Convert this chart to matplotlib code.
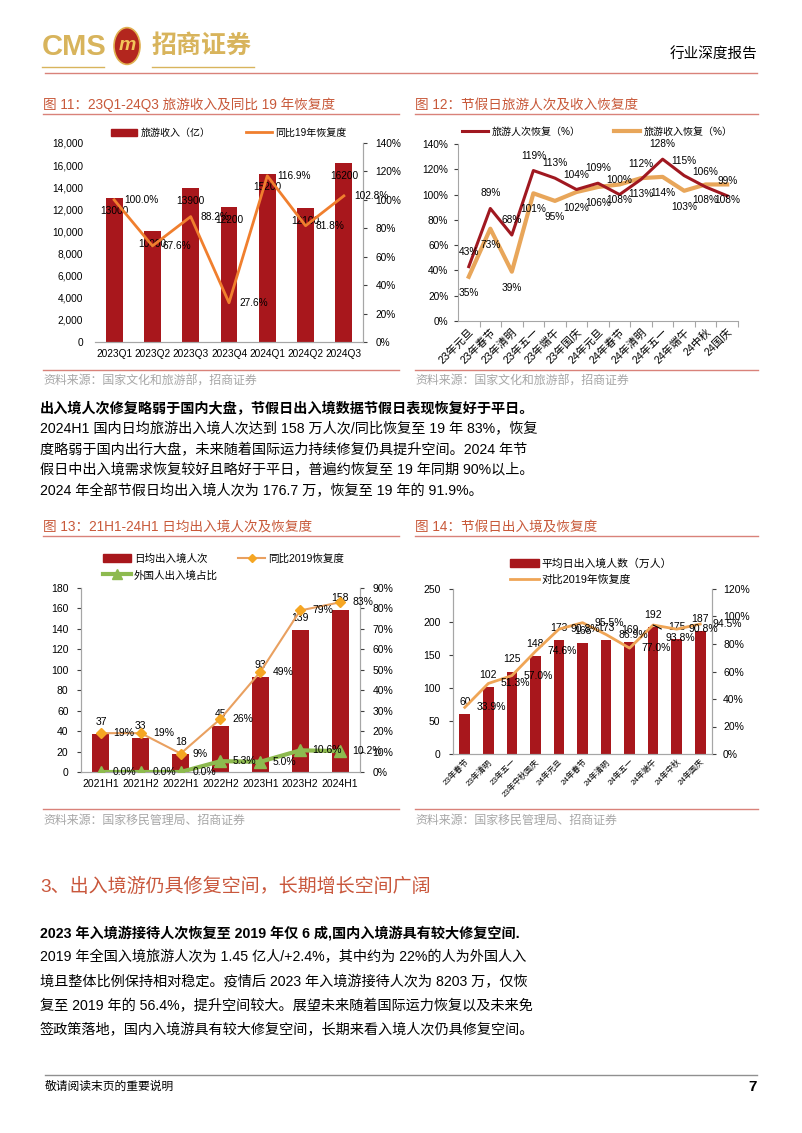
import numpy as np
import matplotlib.pyplot as plt
from matplotlib.lines import Line2D
from matplotlib.patches import Patch, Circle
from matplotlib.ticker import FuncFormatter, FixedLocator

plt.rcParams['font.family'] = ['Liberation Sans', 'Noto Sans CJK SC']

W, H = 802, 1133

# ---- data ----
q_labels = ['2023Q1', '2023Q2', '2023Q3', '2023Q4', '2024Q1', '2024Q2', '2024Q3']
q_income = [13000, 10000, 13900, 12200, 15200, 12100, 16200]
q_recovery = [100.0, 67.6, 88.2, 27.6, 116.9, 81.8, 102.8]

hol12 = ['23年元旦', '23年春节', '23年清明', '23年五一', '23年端午', '23年国庆', '24年元旦',
         '24年春节', '24年清明', '24年五一', '24年端午', '24中秋', '24国庆']
visit_recovery = [43, 89, 68, 119, 113, 104, 109, 100, 112, 128, 115, 106, 99]
income_recovery = [35, 73, 39, 101, 95, 102, 106, 108, 113, 114, 103, 108, 108]

halves = ['2021H1', '2021H2', '2022H1', '2022H2', '2023H1', '2023H2', '2024H1']
daily_cross = [37, 33, 18, 45, 93, 139, 158]
cross_recovery = [19, 19, 9, 26, 49, 79, 83]
foreign_share = [0.0, 0.0, 0.0, 5.3, 5.0, 10.6, 10.2]

hol14 = ['23年春节', '23年清明', '23年五一', '23年中秋国庆', '24年元旦', '24年春节', '24年清明',
         '24年五一', '24年端午', '24年中秋', '24年国庆']
holiday_cross = [60, 102, 125, 148, 173, 168, 173, 169, 192, 175, 187]
holiday_recovery = [33.9, 51.3, 57.0, 74.6, 90.8, 95.5, 86.9, 77.0, 93.8, 90.8, 94.5]

BAR = '#A8171C'
TITLE = '#C8593A'
GRID = '#A6A6A6'

fig = plt.figure(figsize=(W / 100, H / 100), dpi=100)


def px_axes(l, t, r, b):
    return fig.add_axes([l / W, 1 - b / H, (r - l) / W, (b - t) / H])


def ftext(x, y, s, **kw):
    kw.setdefault('va', 'center')
    fig.text(x / W, 1 - y / H, s, **kw)


def fline(x1, x2, y, color, lw=1.0):
    fig.add_artist(Line2D([x1 / W, x2 / W], [1 - y / H, 1 - y / H],
                          transform=fig.transFigure, color=color, lw=lw))


def style(ax, ax2=None):
    for s in ['top']:
        ax.spines[s].set_visible(False)
        if ax2 is not None:
            ax2.spines[s].set_visible(False)
    for a in [ax] + ([ax2] if ax2 is not None else []):
        for s in a.spines.values():
            s.set_color(GRID)
            s.set_linewidth(0.8)
        a.tick_params(colors='#404040', labelcolor='black', width=0.8)


# ---- header ----
ftext(42, 47, 'CMS', color='#D8B45C', fontsize=21, fontweight='bold', ha='left')
logo = Circle((127 / W, 1 - 46 / H), 13 / W, transform=fig.transFigure,
              facecolor='#B3261E', edgecolor='#E0B050', lw=1.2)
fig.add_artist(logo)
ftext(127, 46, 'm', color='#F2C45A', fontsize=14, fontweight='bold', style='italic', ha='center')
ftext(152, 46, '招商证券', color='#D8B45C', fontsize=18, ha='left', fontweight='bold')
fline(42, 104, 67, '#D8B45C', 1.0)
fline(152, 254, 67, '#D8B45C', 1.0)
ftext(757, 55, '行业深度报告', fontsize=10.5, ha='right')
fline(45, 757, 73, '#D9827A', 1.0)

# ---- titles / sources ----
ftext(43, 105, '图 11：23Q1-24Q3 旅游收入及同比 19 年恢复度', color=TITLE, fontsize=9.8, ha='left')
fline(43, 399, 114, '#D9827A', 1.0)
ftext(415, 105, '图 12：节假日旅游人次及收入恢复度', color=TITLE, fontsize=9.8, ha='left')
fline(415, 758, 114, '#D9827A', 1.0)
fline(43, 399, 370, '#D9827A', 1.0)
fline(415, 758, 370, '#D9827A', 1.0)
ftext(43, 382, '资料来源：国家文化和旅游部，招商证券', color='#A6A6A6', fontsize=8.6, ha='left')
ftext(415, 382, '资料来源：国家文化和旅游部，招商证券', color='#A6A6A6', fontsize=8.6, ha='left')

ftext(43, 527, '图 13：21H1-24H1 日均出入境人次及恢复度', color=TITLE, fontsize=9.8, ha='left')
fline(43, 399, 536, '#D9827A', 1.0)
ftext(415, 527, '图 14：节假日出入境及恢复度', color=TITLE, fontsize=9.8, ha='left')
fline(415, 758, 536, '#D9827A', 1.0)
fline(43, 399, 809, '#D9827A', 1.0)
fline(415, 758, 809, '#D9827A', 1.0)
ftext(43, 821, '资料来源：国家移民管理局、招商证券', color='#A6A6A6', fontsize=8.6, ha='left')
ftext(415, 821, '资料来源：国家移民管理局、招商证券', color='#A6A6A6', fontsize=8.6, ha='left')

# ---- chart 11 ----
ax = px_axes(95, 143, 363, 342)
x = np.arange(len(q_labels))
ax.bar(x, q_income, width=0.44, color=BAR, zorder=2)
ax.set_xlim(-0.5, len(q_labels) - 0.5)
ax.set_ylim(0, 18000)
ax.set_yticks(np.arange(0, 18001, 2000))
ax.yaxis.set_major_formatter(FuncFormatter(lambda v, _: f'{int(v):,}'))
ax.set_xticks(x)
ax.set_xticklabels(q_labels)
ax2 = ax.twinx()
ax2.plot(x, q_recovery, color='#F07F2E', lw=2, zorder=3)
ax2.set_ylim(0, 140)
ax2.set_yticks(np.arange(0, 141, 20))
ax2.yaxis.set_major_formatter(FuncFormatter(lambda v, _: f'{int(v)}%'))
style(ax, ax2)
ax.spines['left'].set_visible(False)
ax2.spines['left'].set_visible(False)
ax.tick_params(axis='y', length=0, pad=8.5, labelsize=7.3)
ax.tick_params(axis='x', length=0, pad=5, labelsize=7.3)
ax2.tick_params(axis='y', length=3, pad=6, labelsize=7.3)
for i, v in enumerate(q_income):
    ax.annotate(str(v), (i, v), xytext=(0, -13), textcoords='offset pixels',
                ha='center', va='center', fontsize=7.3, zorder=5)
for i, v in enumerate(q_recovery):
    ax2.annotate(f'{v:.1f}%', (i, v), xytext=(10, 0), textcoords='offset pixels',
                 ha='left', va='center', fontsize=7.3, zorder=5)
ax.legend(handles=[Patch(color=BAR, label='旅游收入（亿）'),
                   Line2D([], [], color='#F07F2E', lw=2, label='同比19年恢复度')],
          ncol=2, loc='center', bbox_to_anchor=(229 / W, 1 - 133 / H), bbox_transform=fig.transFigure,
          frameon=False, fontsize=7.2, handlelength=2.6, handleheight=0.8, handletextpad=0.3,
          columnspacing=3.6)

# ---- chart 12 ----
ax = px_axes(458, 144, 738, 321)
x = np.arange(len(hol12))
ax.plot(x, income_recovery, color='#E8A65A', lw=3, zorder=2)
ax.plot(x, visit_recovery, color='#A01820', lw=2.2, zorder=3)
ax.set_xlim(-0.5, len(hol12) - 0.5)
ax.set_ylim(0, 140)
ax.set_yticks(np.arange(0, 141, 20))
ax.yaxis.set_major_formatter(FuncFormatter(lambda v, _: f'{int(v)}%'))
ax.set_xticks(x)
ax.set_xticklabels(hol12, rotation=45, ha='right', rotation_mode='anchor')
ax.xaxis.set_minor_locator(FixedLocator(np.arange(0.5, len(hol12), 1)))
style(ax)
ax.spines['right'].set_visible(False)
ax.tick_params(axis='x', which='major', length=0, pad=4, labelsize=7.8)
ax.tick_params(axis='x', which='minor', length=4, width=0.8, color=GRID)
ax.tick_params(axis='y', length=3, pad=4, labelsize=7.3)
for i, v in enumerate(visit_recovery):
    ax.annotate(f'{v}%', (i, v), xytext=(0, 15), textcoords='offset pixels',
                ha='center', va='center', fontsize=7.3)
for i, v in enumerate(income_recovery):
    ax.annotate(f'{v}%', (i, v), xytext=(0, -16), textcoords='offset pixels',
                ha='center', va='center', fontsize=7.3)
ax.legend(handles=[Line2D([], [], color='#A01820', lw=2.2, label='旅游人次恢复（%）'),
                   Line2D([], [], color='#E8A65A', lw=3, label='旅游收入恢复（%）')],
          ncol=2, loc='center', bbox_to_anchor=(597 / W, 1 - 132 / H), bbox_transform=fig.transFigure,
          frameon=False, fontsize=7.2, handlelength=2.6, handletextpad=0.4, columnspacing=3.3)

# ---- chart 13 ----
ax = px_axes(81, 588, 360, 772)
x = np.arange(len(halves))
ax.bar(x, daily_cross, width=0.43, color=BAR, zorder=2)
ax.set_xlim(-0.5, len(halves) - 0.5)
ax.set_ylim(0, 180)
ax.set_yticks(np.arange(0, 181, 20))
ax.set_xticks(x)
ax.set_xticklabels(halves)
ax2 = ax.twinx()
ax2.plot(x, cross_recovery, color='#E9A060', lw=1.5, marker='D', ms=5,
         mfc='#F5A623', mec='#F5A623', zorder=3)
ax2.plot(x, foreign_share, color='#8DBA4F', lw=3, marker='^', ms=8,
         mfc='#8DBA4F', mec='#8DBA4F', zorder=3)
ax2.set_ylim(0, 90)
ax2.set_yticks(np.arange(0, 91, 10))
ax2.yaxis.set_major_formatter(FuncFormatter(lambda v, _: f'{int(v)}%'))
style(ax, ax2)
ax.tick_params(axis='y', length=3, pad=6, labelsize=7.5)
ax.tick_params(axis='x', length=0, pad=5, labelsize=7.5)
ax2.tick_params(axis='y', length=3, pad=6, labelsize=7.5)
for i, v in enumerate(daily_cross):
    ax.annotate(str(v), (i, v), xytext=(0, 12), textcoords='offset pixels',
                ha='center', va='center', fontsize=7.5, zorder=5)
for i, v in enumerate(cross_recovery):
    ax2.annotate(f'{v}%', (i, v), xytext=(12, 0), textcoords='offset pixels',
                 ha='left', va='center', fontsize=7.5, zorder=5)
for i, v in enumerate(foreign_share):
    ax2.annotate(f'{v:.1f}%', (i, v), xytext=(12, 0), textcoords='offset pixels',
                 ha='left', va='center', fontsize=7.5, zorder=5)
ax.legend(handles=[Patch(color=BAR, label='日均出入境人次'),
                   Line2D([], [], color='#8DBA4F', lw=3, marker='^', ms=7, label='外国人出入境占比'),
                   Line2D([], [], color='#E9A060', lw=1.5, marker='D', ms=4, mfc='#F5A623',
                          mec='#F5A623', label='同比2019恢复度')],
          ncol=2, loc='upper left', bbox_to_anchor=(98 / W, 1 - 548 / H), bbox_transform=fig.transFigure,
          frameon=False, fontsize=7.6, handlelength=2.6, handleheight=0.8, handletextpad=0.3,
          columnspacing=1.9, labelspacing=0.6, borderpad=0)

# ---- chart 14 ----
ax = px_axes(453, 589, 712, 754)
x = np.arange(len(hol14))
ax.bar(x, holiday_cross, width=0.45, color=BAR, zorder=2)
ax.set_xlim(-0.5, len(hol14) - 0.5)
ax.set_ylim(0, 250)
ax.set_yticks(np.arange(0, 251, 50))
ax.set_xticks(x)
ax.set_xticklabels(hol14, rotation=45, ha='right', rotation_mode='anchor')
ax2 = ax.twinx()
ax2.plot(x, holiday_recovery, color='#EFA556', lw=2, zorder=3)
ax2.set_ylim(0, 120)
ax2.set_yticks(np.arange(0, 121, 20))
ax2.yaxis.set_major_formatter(FuncFormatter(lambda v, _: f'{int(v)}%'))
style(ax, ax2)
ax.tick_params(axis='y', length=3, pad=6, labelsize=7.5)
ax.tick_params(axis='x', length=0, pad=3, labelsize=5.8)
ax2.tick_params(axis='y', length=3, pad=5, labelsize=7.5)
for i, v in enumerate(holiday_cross):
    ax.annotate(str(v), (i, v), xytext=(0, 12), textcoords='offset pixels',
                ha='center', va='center', fontsize=7.5, zorder=5)
for i, v in enumerate(holiday_recovery):
    if hol14[i] == '24年端午':
        ax2.annotate(f'{v:.1f}%', (i, v), xytext=(12, -13), textcoords='offset pixels',
                     ha='left', va='center', fontsize=7.5, zorder=5,
                     arrowprops=dict(arrowstyle='-', color='black', lw=0.8, shrinkA=2, shrinkB=0))
    else:
        ax2.annotate(f'{v:.1f}%', (i, v), xytext=(12, 0), textcoords='offset pixels',
                     ha='left', va='center', fontsize=7.5, zorder=5)
ax.legend(handles=[Patch(color=BAR, label='平均日出入境人数（万人）'),
                   Line2D([], [], color='#EFA556', lw=2, label='对比2019年恢复度')],
          ncol=1, loc='upper left', bbox_to_anchor=(505 / W, 1 - 553 / H), bbox_transform=fig.transFigure,
          frameon=False, fontsize=7.8, handlelength=2.6, handleheight=0.8, handletextpad=0.3,
          labelspacing=0.5, borderpad=0)

# ---- body text ----
para1 = ['2024H1 国内日均旅游出入境人次达到 158 万人次/同比恢复至 19 年 83%，恢复',
         '度略弱于国内出行大盘，未来随着国际运力持续修复仍具提升空间。2024 年节',
         '假日中出入境需求恢复较好且略好于平日，普遍约恢复至 19 年同期 90%以上。',
         '2024 年全部节假日均出入境人次为 176.7 万，恢复至 19 年的 91.9%。']
ftext(40, 409, '出入境人次修复略弱于国内大盘，节假日出入境数据节假日表现恢复好于平日。',
      fontsize=10.2, fontweight='bold', ha='left')
for k, line in enumerate(para1):
    ftext(40, 429.5 + 20.5 * k, line, fontsize=10.2, ha='left')

ftext(40, 887, '3、出入境游仍具修复空间，长期增长空间广阔', fontsize=13.7, color='#C9573C', ha='left')

para2 = ['2019 年全国入境旅游人次为 1.45 亿人/+2.4%，其中约为 22%的人为外国人入',
         '境且整体比例保持相对稳定。疫情后 2023 年入境游接待人次为 8203 万，仅恢',
         '复至 2019 年的 56.4%，提升空间较大。展望未来随着国际运力恢复以及未来免',
         '签政策落地，国内入境游具有较大修复空间，长期来看入境人次仍具修复空间。']
ftext(40, 933, '2023 年入境游接待人次恢复至 2019 年仅 6 成,国内入境游具有较大修复空间.',
      fontsize=10.2, fontweight='bold', ha='left')
for k, line in enumerate(para2):
    ftext(40, 957.5 + 24.2 * k, line, fontsize=10.2, ha='left')

# ---- footer ----
fline(45, 757, 1075, '#909090', 1.0)
ftext(45, 1087, '敬请阅读末页的重要说明', fontsize=8.5, ha='left')
ftext(757, 1087, '7', fontsize=11, fontweight='bold', ha='right')

fig.savefig('out.png', dpi=100)
